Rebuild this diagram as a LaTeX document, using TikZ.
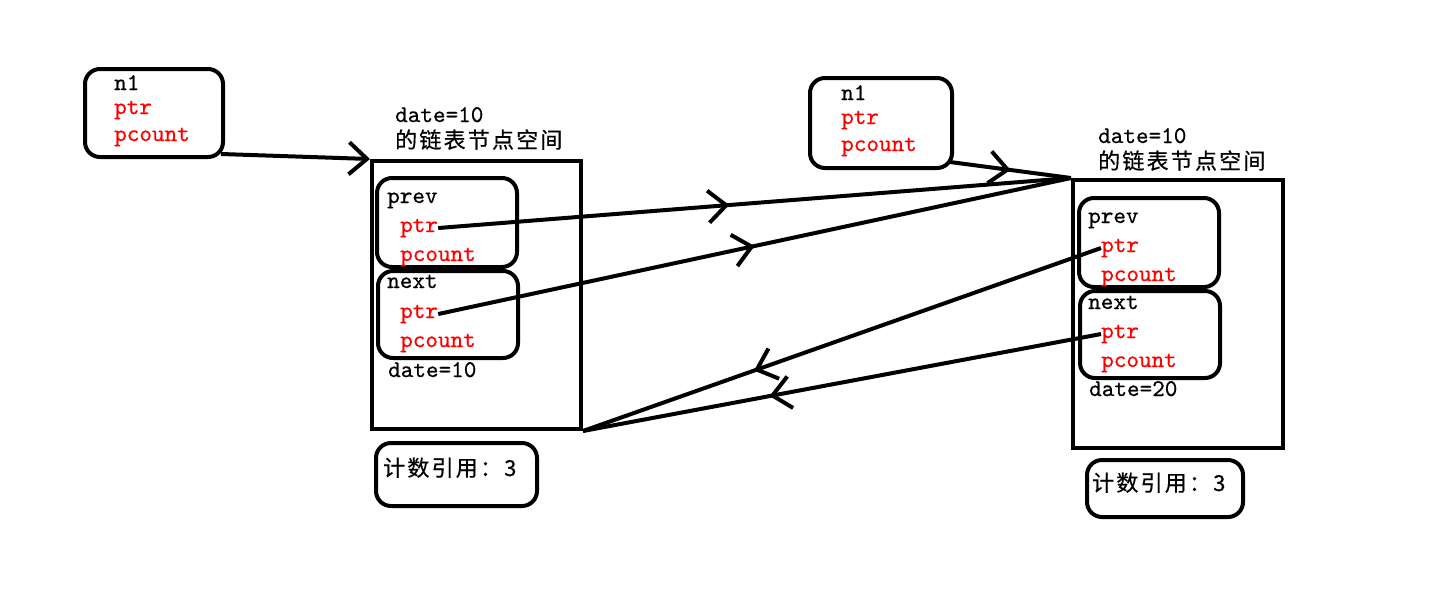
\documentclass[tikz,border=0pt]{standalone}
\usepackage{fontspec}
\newfontfamily\mono[Extension=.otf,UprightFont=*-regular,FakeBold=0.6]{lmmono10}
\newfontfamily\cjk[LetterSpace=10,FakeBold=0.5]{Noto Sans CJK SC}
\usetikzlibrary{arrows.meta,decorations.markings}
\tikzset{
  rbox/.style={draw=black, line width=4pt, rounded corners=15pt, inner sep=0pt},
  sbox/.style={draw=black, line width=4pt, inner sep=0pt},
  txt/.style={inner sep=0pt, anchor=base west, font=\mono\fontsize{24}{28}\selectfont},
  rtxt/.style={txt, text=red},
  ctxt/.style={inner sep=0pt, anchor=base west, font=\cjk\fontsize{22}{26}\selectfont},
  conn/.style={draw=black, line width=4pt},
  barb/.tip={Straight Barb[length=18pt,width=32pt,line width=4pt]},
  arrowat/.style={decoration={markings, mark=at position #1 with {\arrow{barb}}}, postaction={decorate}}
}
\begin{document}
\begin{tikzpicture}[x=1pt,y=-1pt]
\useasboundingbox[fill=white] (0,0) rectangle (1439,590);

% left pointer box n1
\node[rbox, minimum width=138pt, minimum height=88pt] (n1L) at (154,113) {};
\node[txt] (n1Lname) at (114,90) {n1};
\node[rtxt] (n1Lptr) at (114,114) {ptr};
\node[rtxt] (n1Lpc) at (114,141) {pcount};

% right pointer box n1
\node[rbox, minimum width=142pt, minimum height=90pt] (n1R) at (881,123) {};
\node[txt] (n1Rname) at (841,100) {n1};
\node[rtxt] (n1Rptr) at (841,124) {ptr};
\node[rtxt] (n1Rpc) at (841,151) {pcount};

% left list node
\node[txt] (dL) at (395,122) {date=10};
\node[ctxt] (cL) at (395,148) {的链表节点空间};
\node[sbox, minimum width=209pt, minimum height=268pt] (bigL) at (476.5,295) {};
\node[rbox, minimum width=140pt, minimum height=89pt] (prevL) at (447,222.5) {};
\node[rbox, minimum width=140pt, minimum height=87pt] (nextL) at (448,314.5) {};
\node[txt] (prevLt) at (387,203) {prev};
\node[rtxt] (pLp) at (400,232) {ptr};
\node[rtxt] (pLpc) at (400,261) {pcount};
\node[txt] (nextLt) at (387,288) {next};
\node[rtxt] (pLn) at (400,318) {ptr};
\node[rtxt] (pLnc) at (400,347) {pcount};
\node[txt] (dLin) at (388,377) {date=10};
\node[rbox, minimum width=161pt, minimum height=63pt] (countL) at (456.5,474.5) {};
\node[ctxt] (countLt) at (383,476) {计数引用：3};

% right list node
\node[txt] (dR) at (1098,143) {date=10};
\node[ctxt] (cR) at (1098,169) {的链表节点空间};
\node[sbox, minimum width=210pt, minimum height=268pt] (bigR) at (1178,314) {};
\node[rbox, minimum width=140pt, minimum height=89pt] (prevR) at (1149,242.5) {};
\node[rbox, minimum width=140pt, minimum height=87pt] (nextR) at (1150,334.5) {};
\node[txt] (prevRt) at (1088,223) {prev};
\node[rtxt] (pRp) at (1101,252) {ptr};
\node[rtxt] (pRpc) at (1101,281) {pcount};
\node[txt] (nextRt) at (1088,309) {next};
\node[rtxt] (pRn) at (1101,338) {ptr};
\node[rtxt] (pRnc) at (1101,367) {pcount};
\node[txt] (dRin) at (1089,396) {date=20};
\node[rbox, minimum width=156pt, minimum height=57pt] (countR) at (1165,488.5) {};
\node[ctxt] (countRt) at (1092,491) {计数引用：3};

% connectors
\draw[conn, -barb] ([shift={(-4,-5)}]n1L.south east) -- (bigL.north west);
\draw[conn, arrowat=0.5] ([shift={(-4,-8)}]n1R.south east) -- (bigR.north west);
\draw[conn, arrowat=0.46] (pLp.east) -- (bigR.north west);
\draw[conn, arrowat=0.5] (pLn.east) -- (bigR.north west);
\draw[conn, arrowat=0.67] (pRp.west) -- (bigL.south east);
\draw[conn, arrowat=0.64] (pRn.west) -- (bigL.south east);
\end{tikzpicture}
\end{document}
